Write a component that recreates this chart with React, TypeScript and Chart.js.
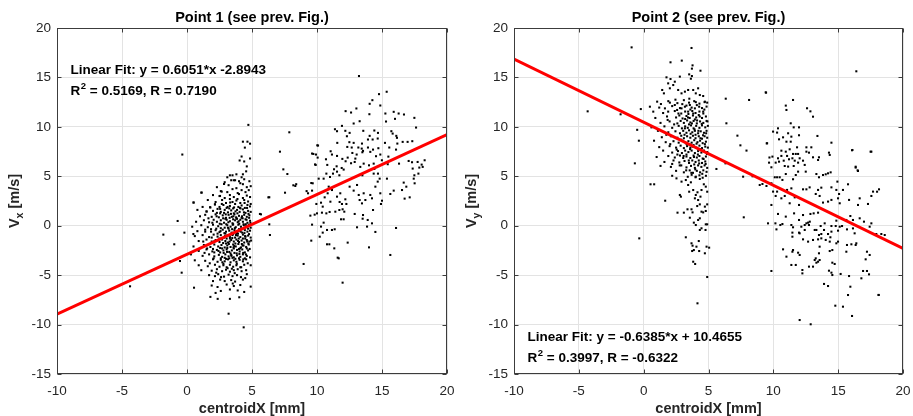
import React, { useEffect, useRef } from "react";
import { Chart, registerables } from "chart.js";
Chart.register(...registerables);

const xTicks = [-10, -5, 0, 5, 10, 15, 20];
const yTicks = [-15, -10, -5, 0, 5, 10, 15, 20];
const xRange = [-10, 20];
const yRange = [-15, 20];

const fit1 = [0.6051, -2.8943];
const fit2 = [-0.6385, 10.4655];
const titles = ["Point 1 (see prev. Fig.)", "Point 2 (see prev. Fig.)"];
const yLabelSubs = ["x", "y"];
const fitTexts = ["Linear Fit: y = 0.6051*x -2.8943", "Linear Fit: y = -0.6385*x + 10.4655"];
const statTexts = [" = 0.5169, R = 0.7190", " = 0.3997, R = -0.6322"];

// Point 1: cluster near x = 0..5
const p1Near = [
  -4.38,-6.13, -0.36,7.2, -0.72,0.48, -1.82,-0.9, -0.98,-1.88, -0.2,-0.7, -0.54,-3.57, -0.41,-4.75, 0.49,-0.84, 0.54,-6.27,
  4.72,10.2, 4.3,8.5, 4.65,8.5, 4.85,8.3, 4.45,7.9, 4.2,7.0, 4.05,6.6, 4.4,6.5, 4.85,6.8, 4.6,6.0, 4.55,5.5, 4.3,5.2,
  3.3,5.1, 3.5,5.1, 3.8,5.2, 4.2,4.9, 3.1,4.9, 3.4,4.6, 3.7,4.6, 4.0,4.5,
  1.13,3.35, 0.51,2.34, 1.77,1.87, 1.51,1.43, 2.15,2.17, 2.54,3.01, 2.67,3.45, 2.85,4.22,
  5.69,1.15, 6.33,0.14, 6.38,-0.94, 6.33,2.88, 5.61,1.19, 3.2,-8.9, 4.36,-10.28, 4.02,-7.24,
  2.9,4.4, 3.6,4.6, 4.1,4.3, 4.4,4.7, 4.8,4.5,
  2.3,3.9, 3.2,4.1, 3.8,3.8, 4.3,4.2, 4.6,3.9, 4.9,4.0,
  1.1,3.35, 2.6,3.5, 3.1,3.4, 3.5,3.7, 3.9,3.3, 4.2,3.6, 4.5,3.4, 4.75,3.6,
  2.5,3.0, 2.9,2.8, 3.3,3.1, 3.6,2.9, 4.0,3.2, 4.3,2.8, 4.6,3.05, 4.85,2.9, 2.0,3.1,
  0.5,2.35, 1.6,2.6, 2.2,2.4, 2.7,2.6, 3.0,2.3, 3.3,2.7, 3.5,2.4, 3.8,2.55, 4.1,2.3, 4.4,2.6, 4.7,2.45, 4.9,2.2,
  1.2,1.9, 1.8,1.85, 2.15,2.15, 2.5,1.9, 2.8,2.1, 3.05,1.8, 3.3,2.0, 3.55,1.75, 3.7,2.2, 3.95,1.9, 4.2,2.05, 4.45,1.8, 4.65,2.1, 4.85,1.95,
  0.8,1.6, 1.5,1.45, 2.0,1.5, 2.35,1.7, 2.6,1.4, 2.9,1.6, 3.15,1.35, 3.4,1.55, 3.6,1.25, 3.85,1.6, 4.05,1.4, 4.3,1.65, 4.5,1.3, 4.7,1.5, 4.9,1.4, 3.25,1.75,
  1.0,0.95, 1.4,1.1, 1.9,0.9, 2.2,1.15, 2.45,0.85, 2.75,1.05, 3.0,0.8, 3.2,1.1, 3.45,0.9, 3.65,1.15, 3.8,0.75, 4.0,1.0, 4.2,0.8, 4.4,1.1, 4.6,0.9, 4.8,1.05, 2.55,1.25, 3.55,0.65,
  0.7,0.4, 1.3,0.55, 1.7,0.35, 2.05,0.6, 2.3,0.4, 2.6,0.55, 2.85,0.3, 3.05,0.6, 3.3,0.45, 3.5,0.25, 3.7,0.55, 3.9,0.35, 4.1,0.6, 4.3,0.4, 4.5,0.65, 4.65,0.3, 4.85,0.5, 2.95,0.7, 3.85,0.7,
  0.4,-0.1, 1.1,0.05, 1.6,-0.15, 2.0,0.1, 2.4,-0.05, 2.65,0.15, 2.9,-0.2, 3.1,0.05, 3.35,-0.1, 3.55,0.15, 3.75,-0.15, 3.95,0.1, 4.15,-0.1, 4.35,0.15, 4.55,-0.05, 4.75,0.1, 4.9,-0.2, 3.2,-0.3, 4.0,-0.35,
  0.8,-0.55, 1.4,-0.4, 1.85,-0.6, 2.2,-0.45, 2.5,-0.65, 2.75,-0.4, 3.0,-0.6, 3.25,-0.5, 3.45,-0.7, 3.65,-0.45, 3.85,-0.65, 4.05,-0.5, 4.25,-0.7, 4.45,-0.45, 4.65,-0.6, 4.85,-0.5, 2.35,-0.8, 3.55,-0.85,
  0.6,-1.05, 1.2,-0.95, 1.7,-1.15, 2.05,-0.9, 2.35,-1.1, 2.6,-0.95, 2.85,-1.2, 3.1,-1.0, 3.3,-1.15, 3.5,-0.95, 3.7,-1.2, 3.9,-1.0, 4.1,-1.15, 4.3,-0.9, 4.5,-1.1, 4.7,-1.0, 4.9,-1.2, 2.95,-0.8, 3.8,-0.8,
  0.9,-1.55, 1.5,-1.4, 1.9,-1.6, 2.2,-1.45, 2.5,-1.65, 2.7,-1.4, 2.95,-1.55, 3.15,-1.7, 3.4,-1.45, 3.6,-1.6, 3.8,-1.4, 4.0,-1.65, 4.2,-1.5, 4.4,-1.7, 4.6,-1.45, 4.8,-1.6, 3.3,-1.3, 4.3,-1.3,
  0.5,-2.1, 1.3,-1.95, 1.8,-2.15, 2.1,-1.9, 2.4,-2.1, 2.65,-1.95, 2.9,-2.2, 3.1,-2.0, 3.35,-2.15, 3.55,-1.9, 3.75,-2.1, 3.95,-1.85, 4.15,-2.2, 4.35,-2.0, 4.55,-2.15, 4.75,-1.9, 2.0,-2.35, 3.0,-1.8, 4.0,-2.35,
  0.9,-2.55, 1.5,-2.4, 1.95,-2.6, 2.3,-2.45, 2.55,-2.7, 2.8,-2.5, 3.05,-2.4, 3.25,-2.65, 3.45,-2.5, 3.65,-2.75, 3.85,-2.45, 4.05,-2.6, 4.25,-2.4, 4.45,-2.7, 4.7,-2.5, 3.6,-2.3, 2.7,-2.3,
  0.3,-2.9, 1.2,-3.05, 1.7,-2.9, 2.1,-3.1, 2.45,-2.95, 2.7,-3.15, 2.95,-2.9, 3.2,-3.1, 3.4,-2.95, 3.6,-3.2, 3.85,-3.0, 4.1,-3.15, 4.3,-2.9, 4.6,-3.05, 4.85,-3.2, 3.0,-3.35,
  0.6,-3.5, 1.4,-3.55, 2.0,-3.4, 2.35,-3.65, 2.6,-3.45, 2.9,-3.6, 3.15,-3.4, 3.35,-3.7, 3.6,-3.5, 3.8,-3.65, 4.05,-3.45, 4.3,-3.6, 4.55,-3.4, 2.8,-3.85,
  0.9,-4.0, 1.6,-4.1, 2.15,-3.95, 2.5,-4.15, 2.8,-4.0, 3.05,-4.2, 3.3,-3.95, 3.55,-4.15, 3.8,-4.0, 4.1,-4.2, 4.4,-3.95, 4.9,-4.0, 3.45,-4.35,
  1.1,-4.5, 1.9,-4.55, 2.3,-4.4, 2.7,-4.6, 3.0,-4.45, 3.3,-4.65, 3.6,-4.5, 3.9,-4.4, 4.2,-4.6, 4.55,-4.5,
  1.7,-5.0, 2.15,-5.1, 2.4,-4.9, 2.85,-5.15, 3.2,-4.95, 3.5,-5.1, 3.85,-5.0, 4.15,-5.2, 4.6,-4.9,
  2.0,-5.6, 2.55,-5.45, 2.9,-5.6, 3.4,-5.5, 3.7,-5.65, 4.3,-5.45,
  1.9,-6.05, 2.35,-6.2, 3.05,-5.95, 3.6,-6.1, 4.1,-6.0, 4.9,-6.16,
  2.6,-6.6, 3.3,-6.45, 3.9,-6.55, 4.4,-6.7, 2.2,-6.8, 1.8,-7.2, 2.36,-7.4, 3.3,-7.4,
  2.55,1.7, 2.85,1.3, 3.12,1.9, 3.38,1.2, 3.62,1.85, 3.88,1.25, 4.12,1.75, 4.38,1.35, 4.62,1.8,
  2.52,0.2, 2.78,0.75, 3.02,0.15, 3.28,0.8, 3.52,0.1, 3.78,0.85, 4.02,0.2, 4.28,0.75, 4.52,0.15, 4.78,0.8,
  2.6,-0.25, 2.88,-0.75, 3.15,-0.2, 3.4,-0.8, 3.68,-0.25, 3.92,-0.8, 4.18,-0.3, 4.42,-0.75, 4.7,-0.3,
  2.5,-1.3, 2.78,-1.75, 3.05,-1.3, 3.22,-1.85, 3.48,-1.25, 3.72,-1.8, 3.98,-1.3, 4.22,-1.85, 4.48,-1.3, 4.72,-1.8,
  2.55,-2.25, 2.82,-2.75, 3.1,-2.25, 3.35,-2.8, 3.58,-2.2, 3.82,-2.8, 4.08,-2.3, 4.32,-2.75, 4.6,-2.3,
  2.6,-3.3, 2.9,-3.25, 3.25,-3.3, 3.5,-3.25, 3.72,-3.35, 4.0,-3.3, 4.45,-3.3,
  1.9,-1.2, 2.1,-2.7, 2.25,-0.3, 1.95,0.3, 2.3,1.3, 2.05,-3.3, 1.55,-2.3, 1.4,-0.6, 1.25,-1.6,
  1.65,0.75, 1.85,-0.35, 2.12,-1.55, 2.28,0.95, 2.42,-2.55, 2.58,-0.55, 2.68,2.2, 2.72,-3.7, 2.92,-1.05, 2.98,1.15,
  3.08,-2.65, 3.12,-4.3, 3.18,0.35, 3.28,-1.6, 3.32,2.35, 3.42,-3.05, 3.47,-0.35, 3.57,0.95, 3.63,-2.05, 3.67,-4.8,
  3.73,1.45, 3.77,-0.95, 3.83,-3.85, 3.88,2.7, 3.93,-1.55, 3.97,0.45, 4.03,-2.85, 4.07,1.8, 4.13,-0.6, 4.17,-4.2,
  4.23,0.95, 4.27,-2.0, 4.33,-3.4, 4.37,0.05, 4.43,2.3, 4.47,-1.05, 4.53,-2.9, 4.58,0.6, 4.63,-1.6, 4.67,-3.8,
  4.73,1.2, 4.77,-0.85, 4.82,-2.35, 4.88,0.3, 4.93,-1.5, 1.75,-3.8, 2.25,-4.75, 2.62,-5.2, 3.52,-5.85, 4.48,-5.3, 1.35,-2.75,
];

// Point 1: cluster near x = 9..18
const p1Far = [
  7.15,7.49, 7.87,9.45, 7.41,5.7, 7.72,5.23, 8.18,4.09, 8.4,4.2, 7.54,3.34, 6.26,2.87, 9.56,4.32, 9.2,3.5, 10.02,8.13, 9.62,7.3, 9.85,6.2,
  13.23,15.14, 14.77,13.31, 15.36,13.55, 14.05,12.33, 14.26,12.7, 14.87,12.16, 13.03,11.86, 12.2,11.59, 12.62,11.45, 14.03,11.28,
  15.26,11.35, 15.9,11.52, 16.28,11.35, 16.69,11.25, 17.49,10.91, 15.31,10.54, 16.0,10.81, 17.62,9.93, 13.28,10.57, 12.82,10.34,
  11.92,10.1, 11.38,9.76, 11.54,9.56, 12.18,9.6, 12.51,9.39, 12.3,9.05, 13.56,9.6, 14.41,9.63, 14.69,9.39, 14.05,9.09,
  15.72,9.56, 15.82,9.32, 16.1,9.09, 16.15,8.89, 14.28,8.72, 14.67,8.82, 16.59,8.48, 16.97,8.48, 17.33,8.55, 11.56,8.38,
  12.49,8.45, 12.82,8.38, 13.46,8.31, 13.92,8.72, 10.08,8.11, 12.33,7.97, 12.67,7.91, 13.18,7.91, 13.44,7.8, 13.54,7.57,
  13.92,7.91, 14.31,7.7, 14.72,7.84, 15.23,8.38, 15.56,7.91, 16.08,7.7, 16.18,8.31, 9.72,7.26, 9.92,7.2, 10.05,6.89,
  10.69,6.72, 11.05,7.53, 11.15,7.2, 11.54,7.06, 11.95,6.76, 12.36,6.89, 12.72,7.36, 12.95,6.79, 13.05,7.2, 13.49,7.43,
  14.1,7.47, 14.54,7.03, 14.87,7.2, 15.49,6.99, 9.9,6.15, 10.79,6.15, 11.31,5.71, 11.51,6.01, 11.9,5.84, 12.2,6.52,
  12.62,6.32, 12.9,6.45, 13.33,5.95, 13.59,6.28, 14.0,6.11, 14.36,6.28, 14.41,5.74, 14.99,6.62, 15.44,6.22, 16.31,6.28,
  17.05,6.55, 17.31,6.42, 17.74,6.45, 18.05,6.18, 18.28,6.62, 18.13,5.95, 17.87,5.88, 17.36,5.78, 11.23,5.27, 10.72,5.27,
  11.72,5.1, 13.49,5.1, 14.69,5.27, 14.36,5.27, 17.49,5.1, 17.8,5.27, 10.51,4.76, 10.13,4.76, 11.0,4.93, 11.54,5.47,
  12.05,5.68, 15.38,4.76, 14.82,4.76, 17.44,4.76,
  8.33,4.02, 9.67,4.29, 9.31,3.28, 9.62,3.55, 9.95,2.2, 10.31,2.33, 10.44,1.93, 10.59,2.87, 10.9,3.95, 10.82,3.28,
  11.15,3.61, 11.03,2.43, 11.54,2.94, 11.79,3.28, 11.74,2.4, 11.92,2.2, 12.18,2.67, 12.26,2.2, 12.51,3.95, 12.82,3.55,
  13.08,4.12, 13.21,3.11, 13.28,2.6, 13.46,2.26, 13.59,3.28, 13.72,2.6, 14.1,3.11, 14.23,2.77, 14.49,3.95, 14.67,4.46,
  14.87,3.28, 15.0,2.53, 14.92,2.2, 15.64,3.21, 15.9,3.55, 16.67,4.36, 16.87,3.95, 16.54,3.61, 16.74,2.74, 17.13,2.87,
  17.51,4.29, 9.49,1.02, 9.82,1.12, 10.0,1.25, 10.38,1.32, 10.72,1.25, 10.97,1.39, 11.41,1.42, 11.72,1.59, 11.97,1.66,
  12.1,1.42, 11.85,0.65, 12.05,0.65, 12.9,1.19, 13.54,1.08, 13.51,0.71, 13.9,0.58, 14.31,1.59, 9.62,0.11, 10.51,0.31,
  10.31,-0.09, 10.77,-0.43, 10.44,-0.7, 11.15,-0.43, 11.36,-0.36, 10.21,-1.11, 9.56,-1.51, 10.77,-1.88, 10.95,-1.88,
  11.33,-2.29, 11.59,-3.23, 11.67,-3.3, 12.36,-1.71, 13.08,-0.16, 13.85,-0.09, 14.23,0.24, 14.0,-2.19, 14.49,-0.63,
  15.64,-2.96, 16.08,-0.23, 11.97,-5.76, 8.97,-3.87,
];

// Point 2: cluster near x = 0..5
const p2Near = [
  -4.32,11.57, -1.78,11.27, -0.93,18.04, -0.68,6.31, -0.37,8.6, -0.5,9.7, -0.22,11.8, -0.34,-1.28, 0.53,4.19, 0.81,4.19,
  1.66,2.53, 0.48,12.04, 0.74,11.54,
  3.69,17.98, 2.07,16.53, 2.94,16.7, 3.77,16.22, 3.72,15.89, 4.38,15.68, 3.51,15.31, 3.72,15.14, 3.64,14.87, 1.76,15.01,
  2.07,14.84, 2.4,14.57, 2.79,15.08, 1.89,14.4, 2.28,14.23, 1.43,13.73, 1.56,13.39, 2.02,13.9, 2.66,13.73, 2.92,13.39,
  3.18,13.56, 3.43,13.73, 3.82,13.73, 4.2,13.9, 4.02,13.39, 4.33,13.22, 4.59,13.12, 4.9,12.45, 1.04,12.55, 1.33,12.31,
  1.64,11.87, 2.02,12.45, 1.89,11.54, 2.4,12.21, 2.58,11.71, 2.92,11.87, 3.18,12.04, 3.43,11.54, 3.56,12.21, 3.95,11.87,
  4.28,12.04, 4.59,11.54, 4.72,12.55,
  1.9,12.6, 2.6,12.4, 3.1,12.7, 3.5,12.45, 3.9,12.6, 4.3,12.35, 4.7,12.5,
  1.2,11.95, 2.2,12.1, 2.8,11.9, 3.3,12.15, 3.7,11.95, 4.1,12.2, 4.5,11.9, 4.85,12.05,
  1.5,11.4, 2.4,11.6, 2.9,11.35, 3.2,11.55, 3.45,11.3, 3.75,11.6, 4.0,11.4, 4.3,11.55, 4.6,11.35, 3.6,11.75,
  0.9,10.9, 1.8,11.05, 2.5,10.95, 2.75,11.15, 3.0,10.85, 3.3,11.1, 3.55,10.9, 3.8,11.15, 4.05,10.95, 4.25,11.2, 4.5,10.9, 4.8,11.05,
  1.3,10.4, 2.0,10.55, 2.6,10.35, 2.85,10.6, 3.1,10.4, 3.35,10.65, 3.6,10.45, 3.85,10.6, 4.1,10.35, 4.35,10.55, 4.6,10.4, 4.85,10.6, 3.2,10.8, 3.95,10.75,
  0.6,9.95, 1.6,10.05, 2.2,9.9, 2.7,10.1, 2.95,9.85, 3.2,10.05, 3.4,9.9, 3.65,10.15, 3.85,9.85, 4.05,10.1, 4.3,9.9, 4.5,10.15, 4.75,9.95, 4.95,10.1, 3.5,10.25,
  1.1,9.6, 1.9,9.45, 2.45,9.55, 2.8,9.35, 3.05,9.6, 3.3,9.4, 3.5,9.65, 3.75,9.45, 3.95,9.6, 4.2,9.35, 4.4,9.55, 4.65,9.4, 4.85,9.6, 3.15,9.2, 4.0,9.2,
  1.4,8.95, 2.1,9.05, 2.6,8.9, 2.9,9.1, 3.1,8.85, 3.35,9.05, 3.6,8.9, 3.8,9.1, 4.0,8.85, 4.25,9.05, 4.5,8.8, 4.7,9.05, 4.9,8.9,
  0.8,8.6, 1.7,8.45, 2.3,8.55, 2.7,8.4, 3.0,8.6, 3.25,8.35, 3.45,8.55, 3.7,8.4, 3.9,8.65, 4.15,8.45, 4.35,8.6, 4.55,8.35, 4.8,8.5, 3.55,8.2,
  1.2,7.95, 2.0,8.05, 2.5,7.9, 2.85,8.1, 3.1,7.85, 3.35,8.05, 3.6,7.9, 3.85,8.15, 4.05,7.9, 4.3,8.1, 4.5,7.85, 4.75,8.0, 4.95,7.9,
  1.5,7.6, 2.2,7.4, 2.65,7.55, 2.95,7.35, 3.2,7.6, 3.45,7.45, 3.7,7.6, 3.95,7.35, 4.2,7.55, 4.45,7.4, 4.65,7.6, 4.9,7.45, 3.3,7.2,
  1.0,6.95, 1.9,7.05, 2.4,6.9, 2.8,7.1, 3.05,6.85, 3.3,7.0, 3.6,6.85, 3.85,7.1, 4.1,6.9, 4.3,7.05, 4.55,6.8, 4.8,7.0, 2.6,7.2,
  1.6,6.45, 2.3,6.6, 2.75,6.4, 3.15,6.55, 3.5,6.35, 3.75,6.6, 4.0,6.45, 4.25,6.6, 4.5,6.35, 4.75,6.5, 3.9,6.2,
  1.3,6.05, 2.1,5.95, 2.9,6.1, 3.3,5.9, 3.65,6.05, 3.95,5.85, 4.2,6.1, 4.45,5.95, 4.7,6.1, 4.9,5.85,
  2.5,5.55, 3.1,5.4, 3.55,5.6, 3.8,5.35, 4.1,5.55, 4.35,5.4, 4.6,5.6, 4.85,5.45,
  2.2,5.05, 3.4,4.95, 3.7,5.15, 4.0,4.9, 4.3,5.1, 4.55,4.85, 4.8,5.05,
  1.75,9.2, 2.05,8.25, 2.35,10.25, 2.55,7.7, 2.68,11.35, 2.78,6.1, 2.88,8.7, 2.98,12.3, 3.08,7.05, 3.18,9.85,
  3.28,5.6, 3.32,8.25, 3.42,10.95, 3.48,6.6, 3.52,12.85, 3.58,7.75, 3.62,9.3, 3.68,5.35, 3.72,10.35, 3.78,8.0,
  3.82,11.35, 3.88,6.95, 3.92,9.75, 3.98,5.7, 4.02,12.5, 4.08,8.3, 4.12,10.65, 4.18,7.2, 4.22,9.6, 4.28,6.3,
  4.32,11.05, 4.38,8.85, 4.42,7.75, 4.48,10.3, 4.52,5.25, 4.58,9.15, 4.62,6.75, 4.68,11.75, 4.72,8.25, 4.78,6.25,
  4.82,9.35, 4.88,7.25, 4.92,10.55, 2.2,6.25, 1.85,10.7, 2.45,12.75,
  2.79,3.11, 2.87,2.94, 2.61,1.32, 3.1,1.32, 3.38,1.66, 3.69,1.66, 3.56,0.81, 3.77,1.35, 3.87,0.31, 4.02,0.07,
  4.2,0.58, 4.33,0.75, 4.46,1.42, 4.59,1.35, 4.79,1.49, 4.9,2.16, 4.72,1.93, 4.13,1.99, 4.33,2.16, 3.95,2.77,
  4.2,2.6, 4.38,2.94, 4.02,3.11, 4.46,3.61, 4.64,4.19, 4.79,3.95, 4.9,3.44, 4.15,3.38, 3.82,3.61, 3.51,3.44,
  3.43,4.12, 3.64,4.39, 3.25,4.62, 2.92,4.46, 2.53,4.79, 4.33,4.73, 4.02,4.96, 4.79,0.14, 4.9,0.14, 4.46,-0.26,
  4.33,-0.43, 4.77,-0.43, 3.25,-1.17, 3.69,-1.78, 3.77,-2.02, 3.87,-2.46, 3.74,-2.56, 4.07,-2.12, 4.25,-1.55, 4.28,-2.56,
  4.72,-2.79, 4.85,-2.12, 5.05,-2.22, 3.82,-3.64, 3.97,-3.87, 4.9,-5.19, 4.15,-7.85,
];

// Point 2: scattered points between the clusters
const p2Mid = [
  6.33,12.85, 8.13,12.72, 9.44,13.46, 6.38,10.36, 7.23,9.11, 7.46,8.13, 7.93,7.6, 5.61,5.74, 6.31,6.31, 7.67,4.96,
  8.95,4.12, 8.4,5.0, 9.49,8.33, 9.7,6.9, 7.72,0.85,
];

// Point 2: cluster near x = 9..18
const p2Far = [
  16.4,15.62, 16.35,5.97, 16.5,5.6, 16.1,7.66, 17.5,7.49, 18.0,3.44, 18.12,-7.0,
  9.41,13.49, 11.52,12.72, 10.96,12.15, 11.01,11.71, 12.6,11.88, 12.86,11.57, 13.06,11.03, 11.34,10.36, 11.57,9.95, 11.98,9.95,
  10.36,9.85, 9.98,9.52, 10.29,9.42, 11.14,9.35, 10.75,8.94, 11.39,9.01, 11.98,9.15, 13.4,9.08, 10.44,8.74, 9.52,8.34,
  11.01,8.5, 11.34,8.5, 14.48,8.4, 11.83,7.93, 12.55,7.93, 12.93,7.93, 10.62,7.59, 10.96,7.49, 11.26,7.73, 11.52,7.26,
  11.73,7.26, 11.91,7.26, 12.55,7.49, 12.75,7.39, 14.29,7.39, 14.35,7.16, 16.07,7.63, 17.56,7.49, 9.93,6.99, 10.36,6.82,
  10.62,7.06, 10.8,6.58, 11.06,7.06, 11.21,6.72, 11.47,6.82, 11.65,6.58, 12.03,6.82, 12.29,6.58, 13.06,6.92, 13.52,6.92,
  13.45,6.65, 9.67,6.38, 10.18,6.38, 10.44,6.48, 10.88,6.04, 11.14,5.98, 11.57,6.04, 11.91,6.38, 12.42,6.15, 9.85,5.91,
  12.5,5.47, 16.35,5.88, 16.53,5.54, 10.11,4.9, 10.29,4.9, 10.49,4.9, 10.7,4.63, 11.52,4.7, 10.96,5.23, 11.73,5.13,
  11.91,5.47, 13.32,5.23, 13.52,4.9, 13.83,5.13, 14.04,5.2, 14.22,5.3, 14.42,5.4, 9.47,4.02, 9.16,4.22, 9.85,4.29,
  9.98,3.45, 10.29,3.45, 10.18,3.01, 10.62,2.77, 10.88,3.01, 11.06,3.62, 11.39,3.78, 11.65,2.87, 11.98,2.1, 11.26,2.27,
  12.29,3.68, 12.55,3.68, 12.8,3.88, 13.45,3.62, 13.7,3.85, 13.27,3.21, 13.57,3.01, 13.83,2.34, 14.22,2.44, 14.48,3.88,
  14.86,3.62, 15.07,3.21, 14.94,4.46, 15.76,4.19, 15.37,3.62, 15.84,2.61, 16.66,2.77, 17.69,3.45, 18.15,3.68, 17.56,3.01,
  17.3,2.2, 16.53,2.1, 9.85,2.1, 15.12,2.27, 14.99,2.77, 14.48,2.61,
  9.59,0.24, 10.16,0.24, 10.24,-0.37, 10.54,0.07, 10.7,0.17, 10.36,1.19, 10.96,0.92, 11.39,0.07, 11.52,-0.16, 11.6,1.25,
  11.98,0.58, 12.16,-0.1, 12.42,0.07, 12.55,0.24, 12.68,0.31, 12.81,0.41, 12.75,0.07, 12.86,1.19, 13.11,1.25, 12.29,1.08,
  13.45,1.32, 11.47,-0.7, 11.47,-1.11, 11.98,-0.7, 12.03,-0.77, 12.42,-0.43, 13.19,-0.43, 13.32,-0.43, 13.52,-0.94, 13.7,-0.84,
  13.91,-0.43, 14.22,-0.84, 14.48,-0.6, 14.48,-0.03, 14.81,-0.03, 15.12,-0.1, 14.4,-1.17, 14.35,-1.61, 14.04,-1.44, 13.7,-1.28,
  13.45,-1.38, 13.06,-1.44, 12.68,-1.61, 12.29,-1.38, 14.86,-1.78, 14.99,-1.61, 14.55,-2.46, 14.35,-2.56, 13.57,-2.12, 13.52,-2.79,
  13.27,-3.3, 13.19,-3.47, 13.45,-3.64, 13.57,-3.47, 13.32,-3.74, 12.75,-4.14, 13.06,-4.14, 12.24,-4.48, 12.24,-4.82, 11.73,-3.97,
  11.39,-3.97, 12.03,-2.96, 11.91,-2.73, 11.52,-2.46, 11.47,-2.63, 11.01,-3.13, 10.75,-2.39, 9.85,-4.58, 14.55,-3.74, 14.73,-3.87,
  14.29,-4.55, 14.48,-4.75, 14.55,-4.99, 15.19,-4.88, 15.63,-2.63, 15.68,-1.95, 16.02,-1.88, 16.35,-1.95, 16.4,-1.78, 15.84,-5.09,
  15.94,-6.17, 15.76,-7.01, 15.37,-8.19, 14.78,-8.09, 16.07,-9.13, 13.91,-5.89, 14.22,-6.1, 12.03,-9.54, 12.88,-9.97, 17.22,-2.63,
  17.43,-2.96, 17.12,-3.4, 17.22,-4.58, 17.38,-4.92, 16.79,-5.32, 16.92,-4.58, 18.12,-7.01, 18.33,-0.84, 18.59,-0.94, 17.94,-0.84,
  17.43,-0.1, 17.56,0.24, 16.27,-0.77, 16.14,-0.27, 15.68,-0.37, 15.94,0.98, 16.66,0.75, 16.99,0.41, 16.14,0.58, 15.3,-0.03,
  15.63,0.58, 14.99,-0.5, 14.86,0.51, 13.96,0.24, 13.65,-0.03,
];

const FONT = '"Liberation Sans", Arial, Helvetica, sans-serif';
const TEXT = "#262626";

function toPoints(...arrs: number[][]) {
  const out: { x: number; y: number }[] = [];
  for (const a of arrs) for (let i = 0; i < a.length; i += 2) out.push({ x: a[i], y: a[i + 1] });
  return out;
}

type Spec = {
  title: string;
  sub: string;
  fitText: string;
  statText: string;
  annTop: boolean;
};

function overlay(spec: Spec) {
  return {
    id: "overlay",
    afterDraw(chart: any) {
      const { ctx, chartArea: a, scales } = chart;
      const xs = scales.x, ys = scales.y;
      ctx.save();
      ctx.strokeStyle = "#3c3c3c";
      ctx.lineWidth = 1;
      const L = Math.round(a.left) + 0.5, R = Math.round(a.right) - 0.5;
      const T = Math.round(a.top) + 0.5, B = Math.round(a.bottom) - 0.5;
      ctx.strokeRect(L, T, R - L, B - T);
      ctx.beginPath();
      for (const v of xTicks) {
        const p = Math.round(xs.getPixelForValue(v)) + 0.5;
        ctx.moveTo(p, B); ctx.lineTo(p, B - 4);
        ctx.moveTo(p, T); ctx.lineTo(p, T + 4);
      }
      for (const v of yTicks) {
        const p = Math.round(ys.getPixelForValue(v)) + 0.5;
        ctx.moveTo(L, p); ctx.lineTo(L + 4, p);
        ctx.moveTo(R, p); ctx.lineTo(R - 4, p);
      }
      ctx.stroke();
      const cx = (a.left + a.right) / 2;
      ctx.fillStyle = "#000";
      ctx.textAlign = "center";
      ctx.textBaseline = "alphabetic";
      ctx.font = `bold 14.5px ${FONT}`;
      ctx.fillText(spec.title, cx, 22);
      ctx.fillStyle = TEXT;
      ctx.fillText("centroidX [mm]", cx, 413);
      ctx.save();
      ctx.translate(a.left - 38, (a.top + a.bottom) / 2);
      ctx.rotate(-Math.PI / 2);
      ctx.textAlign = "left";
      ctx.font = `bold 14.5px ${FONT}`;
      const wV = ctx.measureText("V").width;
      const rest = " [m/s]";
      const wRest = ctx.measureText(rest).width;
      ctx.font = `bold 10.5px ${FONT}`;
      const wS = ctx.measureText(spec.sub).width;
      const tot = wV + wS + wRest;
      const sx = -tot / 2;
      ctx.font = `bold 14.5px ${FONT}`;
      ctx.fillText("V", sx, 0);
      ctx.font = `bold 10.5px ${FONT}`;
      ctx.fillText(spec.sub, sx + wV, 3.5);
      ctx.font = `bold 14.5px ${FONT}`;
      ctx.fillText(rest, sx + wV + wS, 0);
      ctx.restore();
      const ax = a.left + 13.5;
      const y1 = spec.annTop ? 74 : 341;
      const y2 = y1 + 20.5;
      ctx.textAlign = "left";
      ctx.fillStyle = "#000";
      ctx.font = `bold 13.5px ${FONT}`;
      ctx.fillText(spec.fitText, ax, y1);
      ctx.fillText("R", ax, y2);
      const wR = ctx.measureText("R").width;
      ctx.font = `bold 9.5px ${FONT}`;
      ctx.fillText("2", ax + wR + 0.5, y2 - 6);
      const w2 = ctx.measureText("2").width;
      ctx.font = `bold 13.5px ${FONT}`;
      ctx.fillText(spec.statText, ax + wR + w2 + 0.5, y2);
      ctx.restore();
    },
  };
}

function buildChart(canvas: HTMLCanvasElement, points: { x: number; y: number }[], fit: number[], spec: Spec, padLeft: number, padRight: number) {
  const line = [xRange[0], xRange[1]].map((x) => ({ x, y: fit[0] * x + fit[1] }));
  return new Chart(canvas, {
    type: "scatter",
    data: {
      datasets: [
        {
          data: line,
          showLine: true,
          borderColor: "#ff0000",
          borderWidth: 3,
          pointRadius: 0,
          fill: false,
        } as any,
        {
          data: points,
          pointStyle: "rect",
          pointRadius: 1.45,
          backgroundColor: "#000",
          borderWidth: 0,
          showLine: false,
        } as any,
      ],
    },
    options: {
      animation: false,
      responsive: false,
      maintainAspectRatio: false,
      devicePixelRatio: 1,
      layout: { padding: { left: padLeft, right: padRight, top: 28, bottom: 0 } },
      plugins: { legend: { display: false }, tooltip: { enabled: false }, title: { display: false } },
      scales: {
        x: {
          type: "linear",
          min: xRange[0],
          max: xRange[1],
          afterBuildTicks: (s: any) => { s.ticks = xTicks.map((v) => ({ value: v })); },
          afterFit: (s: any) => { s.height = 42; s.paddingLeft = 0; s.paddingRight = 0; },
          grid: { color: "#e3e3e3", drawTicks: false },
          border: { display: false },
          ticks: { color: TEXT, font: { family: FONT, size: 13.5 }, padding: 9, maxRotation: 0, autoSkip: false },
        },
        y: {
          type: "linear",
          min: yRange[0],
          max: yRange[1],
          afterBuildTicks: (s: any) => { s.ticks = yTicks.map((v) => ({ value: v })); },
          afterFit: (s: any) => { s.width = 40; s.paddingTop = 0; s.paddingBottom = 0; },
          grid: { color: "#e3e3e3", drawTicks: false },
          border: { display: false },
          ticks: { color: TEXT, font: { family: FONT, size: 13.5 }, padding: 6, autoSkip: false },
        },
      },
    },
    plugins: [overlay(spec)],
  } as any);
}

export default function App() {
  const c1 = useRef<HTMLCanvasElement>(null);
  const c2 = useRef<HTMLCanvasElement>(null);
  useEffect(() => {
    const ch1 = buildChart(c1.current!, toPoints(p1Near, p1Far), fit1,
      { title: titles[0], sub: yLabelSubs[0], fitText: fitTexts[0], statText: statTexts[0], annTop: true }, 17, 9);
    const ch2 = buildChart(c2.current!, toPoints(p2Near, p2Mid, p2Far), fit2,
      { title: titles[1], sub: yLabelSubs[1], fitText: fitTexts[1], statText: statTexts[1], annTop: false }, 18, 10);
    return () => { ch1.destroy(); ch2.destroy(); };
  }, []);
  return (
    <div style={{ position: "fixed", left: 0, top: 0, width: 913, height: 416, background: "#fff" }}>
      <canvas ref={c1} width={456} height={416} style={{ position: "absolute", left: 0, top: 0, width: 456, height: 416 }} />
      <canvas ref={c2} width={457} height={416} style={{ position: "absolute", left: 456, top: 0, width: 457, height: 416 }} />
    </div>
  );
}
